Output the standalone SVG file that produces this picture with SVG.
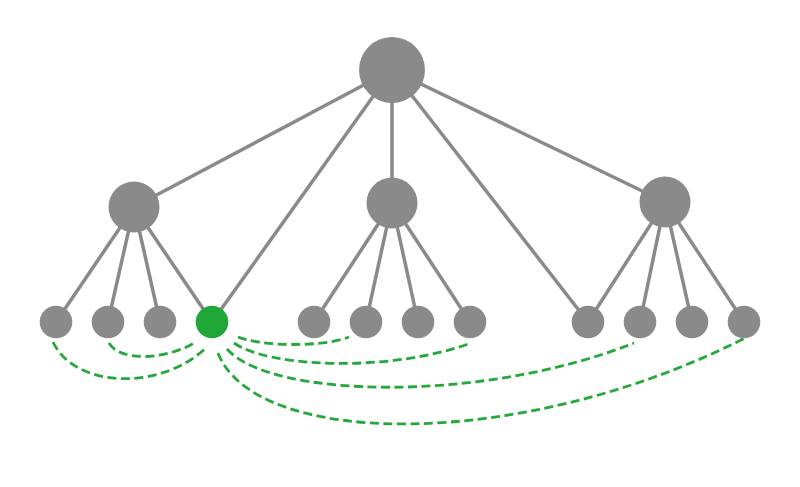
<svg xmlns="http://www.w3.org/2000/svg" width="800" height="487" viewBox="0 0 800 487">
<style>
.edge{stroke:#8a8a8a;stroke-width:3.5;fill:none}
.link{stroke:#25a83a;stroke-width:2.8;fill:none;stroke-dasharray:9 4.5}
.n{fill:#8a8a8a}
.g{fill:#21a638}
</style>
<rect width="800" height="487" fill="#ffffff"/>
<g id="connectors">
<line class="edge" x1="392" y1="70" x2="134" y2="207"/>
<line class="edge" x1="392" y1="70" x2="212" y2="322"/>
<line class="edge" x1="392" y1="70" x2="392" y2="203"/>
<line class="edge" x1="392" y1="70" x2="588" y2="322"/>
<line class="edge" x1="392" y1="70" x2="665" y2="202"/>
<line class="edge" x1="134" y1="207" x2="56" y2="322"/>
<line class="edge" x1="134" y1="207" x2="108" y2="322"/>
<line class="edge" x1="134" y1="207" x2="160" y2="322"/>
<line class="edge" x1="134" y1="207" x2="212" y2="322"/>
<line class="edge" x1="392" y1="203" x2="314" y2="322"/>
<line class="edge" x1="392" y1="203" x2="366" y2="322"/>
<line class="edge" x1="392" y1="203" x2="418" y2="322"/>
<line class="edge" x1="392" y1="203" x2="470" y2="322"/>
<line class="edge" x1="665" y1="202" x2="588" y2="322"/>
<line class="edge" x1="665" y1="202" x2="640" y2="322"/>
<line class="edge" x1="665" y1="202" x2="692" y2="322"/>
<line class="edge" x1="665" y1="202" x2="744" y2="322"/>
<path class="link" d="M53,342 C75,388 160,392 207,347"/>
<path class="link" d="M109,343 C120,362 165,360 194,343"/>
<path class="link" d="M238,337 C260,346 320,348 349,337"/>
<path class="link" d="M234,343 C270,368 390,372 468,344"/>
<path class="link" d="M227,349 C270,398 480,404 634,343"/>
<path class="link" d="M218,353 C255,448 520,452 745,338"/>
</g>
<g id="root"><circle class="n" cx="392" cy="70" r="33"/></g>
<g id="mid-left"><circle class="n" cx="134" cy="207" r="25.5"/></g>
<g id="mid-center"><circle class="n" cx="392" cy="203" r="25.5"/></g>
<g id="mid-right"><circle class="n" cx="665" cy="202" r="25.5"/></g>
<g id="leaf1"><circle class="n" cx="56" cy="322" r="16.3"/></g>
<g id="leaf2"><circle class="n" cx="108" cy="322" r="16.3"/></g>
<g id="leaf3"><circle class="n" cx="160" cy="322" r="16.3"/></g>
<g id="leaf4"><circle class="g" cx="212" cy="322" r="16.3"/></g>
<g id="leaf5"><circle class="n" cx="314" cy="322" r="16.3"/></g>
<g id="leaf6"><circle class="n" cx="366" cy="322" r="16.3"/></g>
<g id="leaf7"><circle class="n" cx="418" cy="322" r="16.3"/></g>
<g id="leaf8"><circle class="n" cx="470" cy="322" r="16.3"/></g>
<g id="leaf9"><circle class="n" cx="588" cy="322" r="16.3"/></g>
<g id="leaf10"><circle class="n" cx="640" cy="322" r="16.3"/></g>
<g id="leaf11"><circle class="n" cx="692" cy="322" r="16.3"/></g>
<g id="leaf12"><circle class="n" cx="744" cy="322" r="16.3"/></g>
</svg>
